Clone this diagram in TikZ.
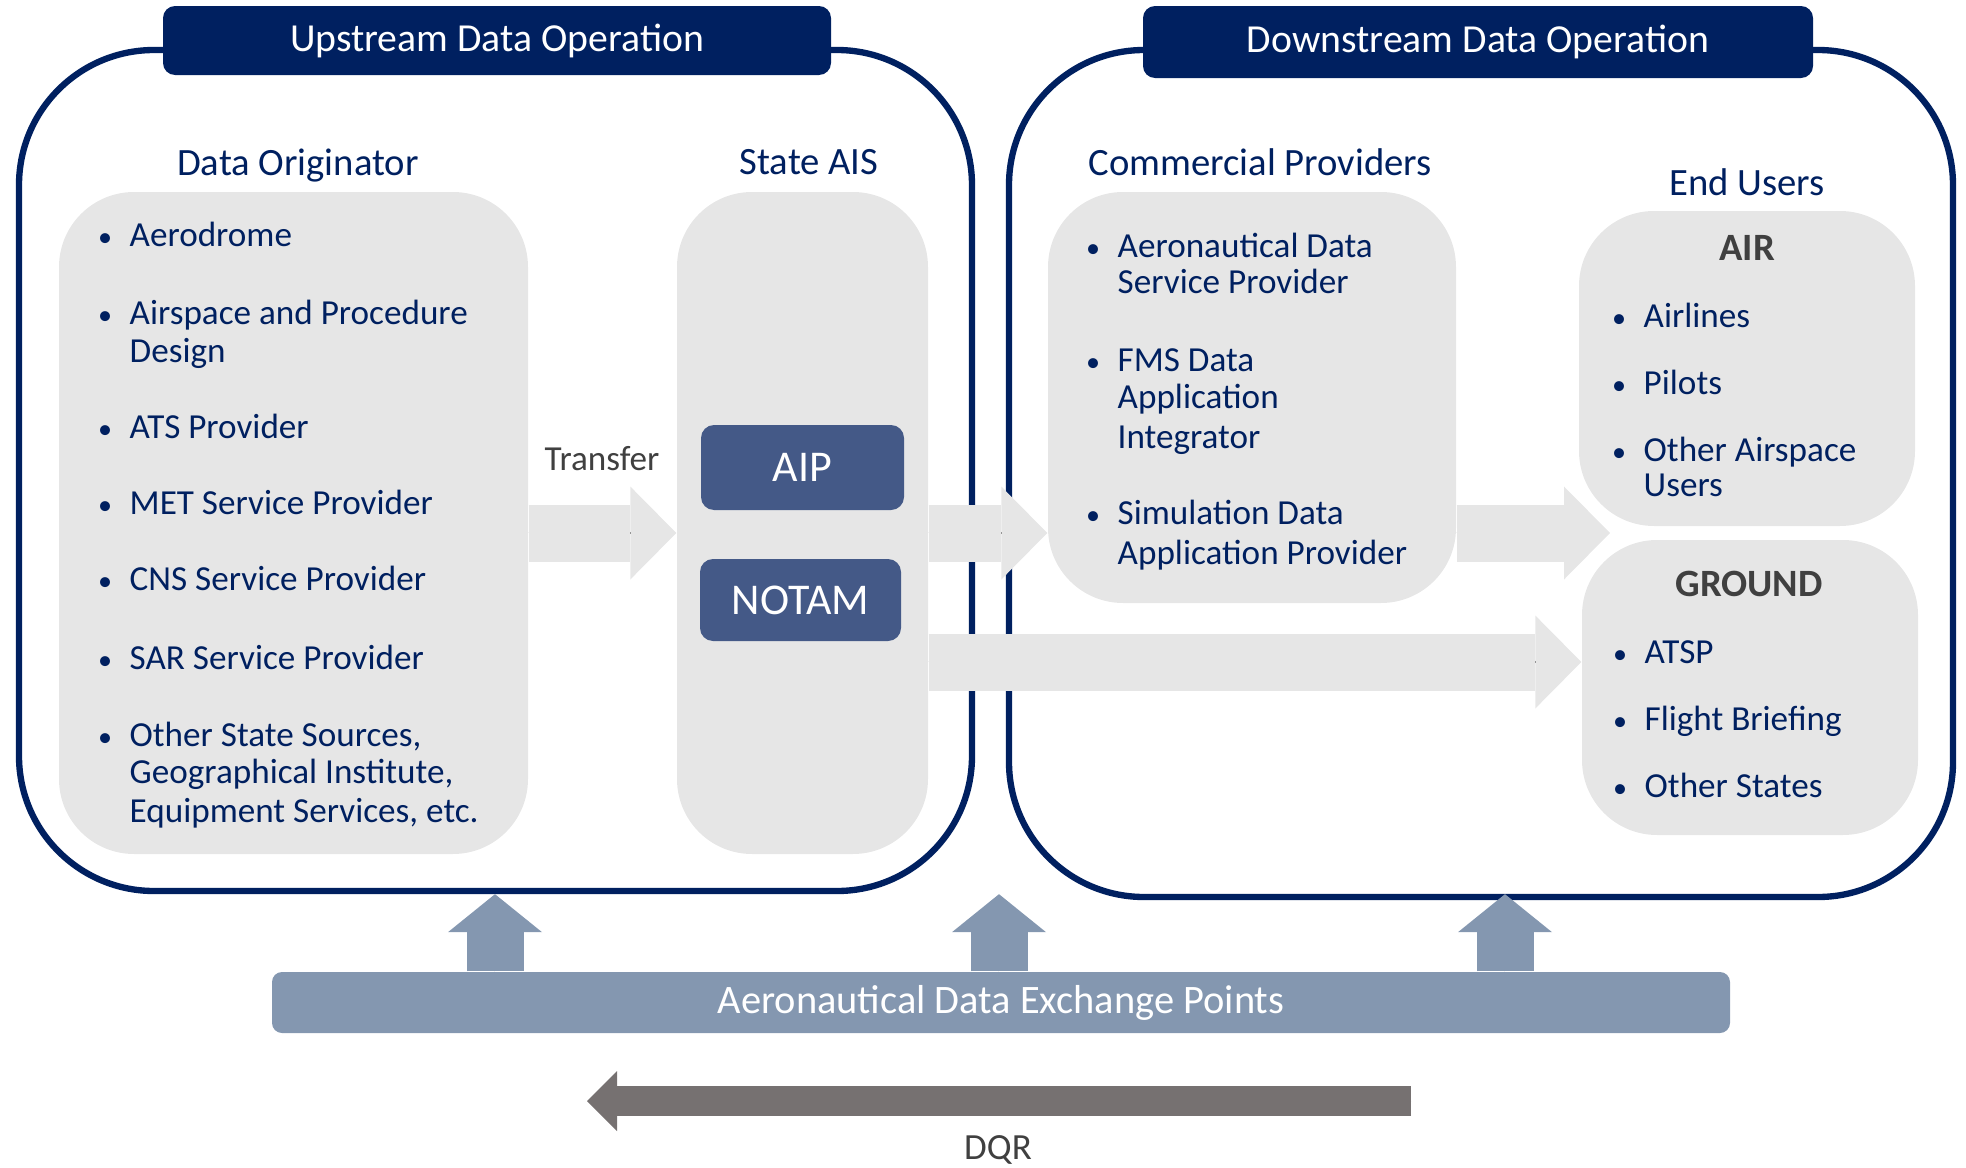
\documentclass[tikz,border=0pt]{standalone}
\usepackage{fontspec}
\setmainfont{Carlito}
\usetikzlibrary{arrows.meta,% block arrow heads
calc}
\definecolor{navy}{HTML}{002060}
\definecolor{slate}{HTML}{445987}
\definecolor{boxgrey}{HTML}{E6E6E6}
\definecolor{bandblue}{HTML}{8497B0}
\definecolor{dqrgrey}{HTML}{767171}
\definecolor{darktext}{HTML}{404040}
\tikzset{
  bigbox/.style={draw=navy, line width=1.8pt, rounded corners=13.5mm},
  header/.style={fill=navy, text=white, rounded corners=1.2mm, font=\fontsize{11.3}{13}\selectfont},
  greybox/.style={fill=boxgrey, rounded corners=7.5mm},
  docbox/.style={fill=slate, text=white, rounded corners=1.3mm, font=\fontsize{12.5}{14}\selectfont},
  head/.style={text=navy, font=\fontsize{11}{13}\selectfont},
  group/.style={text=darktext, font=\fontsize{11}{13}\selectfont\bfseries},
  item/.style={text=navy, anchor=west, inner sep=0pt, text height=7pt, text depth=2pt, yshift=-0.35mm,
    font=\fontsize{10}{11}\selectfont},
  bul/.style={item, anchor=center, font=\fontsize{8}{9}\selectfont},
  note/.style={text=darktext, font=\fontsize{10}{12}\selectfont},
  flow/.style={draw=boxgrey, line width=5.7mm, preaction={draw, -, shorten >=4mm},
    -{Triangle[length=4.6mm, width=9.3mm, line width=0pt]}},
  uparrow/.style={draw=bandblue, line width=5.7mm, preaction={draw, -, shorten >=3.2mm},
    -{Triangle[length=3.8mm, width=9.4mm, line width=0pt]}},
  back/.style={draw=dqrgrey, line width=3mm, preaction={draw, -, shorten >=2.4mm},
    -{Triangle[length=3mm, width=6mm, line width=0pt]}}
}

\begin{document}
\begin{tikzpicture}[x=0.1mm, y=-0.1mm]
  \useasboundingbox (0,0) rectangle (1966,1168);
  % the two operations
  \node[bigbox, minimum width=95.3mm, minimum height=84.1mm] (up) at (495.5,470.5) {};
  \node[bigbox, minimum width=94.4mm, minimum height=84.7mm] (down) at (1481,473.5) {};
  \node[header, minimum width=66.8mm, minimum height=6.9mm] (uph) at (497,40.5) {Upstream Data Operation};
  \node[header, minimum width=67mm, minimum height=7.2mm] (downh) at (1478,42) {Downstream Data Operation};

  \node[greybox, minimum width=46.9mm, minimum height=66.2mm] (orig) at (293.5,523) {};
  \node[greybox, minimum width=25.1mm, minimum height=66.2mm] (ais) at (802.5,523) {};
  \node[greybox, minimum width=40.8mm, minimum height=41.1mm] (comm) at (1252,397.5) {};
  \node[greybox, minimum width=33.6mm, minimum height=31.5mm] (air) at (1747,368.5) {};
  \node[greybox, minimum width=33.6mm, minimum height=29.5mm] (ground) at (1750,687.5) {};
  \node[docbox, minimum width=20.3mm, minimum height=8.5mm] (aip) at (802.5,467.5) {AIP};
  \node[docbox, minimum width=20.1mm, minimum height=8.2mm] (notam) at (800.5,600) {NOTAM};

  % flows
  \coordinate (mid) at (0,533);
  \coordinate (low) at (0,662);
  \coordinate (airgap) at (1610,533);
  \draw[flow] (orig.east |- mid) -- (ais.west |- mid);
  \draw[flow] (ais.east |- mid) -- (comm.west |- mid);
  \draw[flow] (comm.east |- mid) -- (airgap);
  \draw[flow] (ais.east |- low) -- (ground.west |- low);
  \node[note] (transfer) at (602,459) {Transfer};

  \node[head] (origh) at (298,166) {Data Originator};
  \node[head] (aish) at (809,162) {State AIS};
  \node[head] (commh) at (1260,162) {Commercial Providers};
  \node[head] (endh) at (1747,182) {End Users};
  \node[group] (airh) at (1747,248) {AIR};
  \node[group] (groundh) at (1749,584) {GROUND};

  \foreach \y/\t [count=\i] in {234/Aerodrome, 312/Airspace and Procedure, 350/Design, 426/ATS Provider,
    502/MET Service Provider, 578/CNS Service Provider, 657/SAR Service Provider,
    734/{Other State Sources,}, 771/{Geographical Institute,}, 810/{Equipment Services, etc.}}
    \node[item] (do\i) at (129,\y) {\t};
  \foreach \y [count=\i] in {234,312,426,502,578,657,734} \node[bul] (dob\i) at (105,\y) {\textbullet};

  \foreach \y/\t [count=\i] in {245/Aeronautical Data, 281/Service Provider, 359/FMS Data, 396/Application,
    436/Integrator, 512/Simulation Data, 552/Application Provider}
    \node[item] (cp\i) at (1117,\y) {\t};
  \foreach \y [count=\i] in {245,359,512} \node[bul] (cpb\i) at (1093,\y) {\textbullet};

  \foreach \y/\t [count=\i] in {315/Airlines, 382/Pilots, 449/Other Airspace, 484/Users}
    \node[item] (ai\i) at (1643,\y) {\t};
  \foreach \y [count=\i] in {315,382,449} \node[bul] (aib\i) at (1619,\y) {\textbullet};

  \foreach \y/\t [count=\i] in {651/ATSP, 718/Flight Briefing, 785/Other States}
    \node[item] (gr\i) at (1644,\y) {\t};
  \foreach \y [count=\i] in {651,718,785} \node[bul] (grb\i) at (1620,\y) {\textbullet};

  % exchange points
  \node[fill=bandblue, text=white, rounded corners=1mm, minimum width=145.8mm, minimum height=6.1mm,
    font=\fontsize{11.5}{13}\selectfont] (band) at (1001,1002.5) {Aeronautical Data Exchange Points};
  \foreach \x [count=\i] in {495,999,1505} {
    \coordinate (ua\i) at (\x,0);
    \draw[uparrow] (band.north -| ua\i) -- (up.south -| ua\i);
  }

  \coordinate (dqrR) at (1411,1101);
  \coordinate (dqrL) at (587,1101);
  \draw[back] (dqrR) -- (dqrL);
  \node[note, inner sep=0pt, font=\fontsize{10.5}{12}\selectfont] (dqr) at (998,1150) {DQR};
\end{tikzpicture}
\end{document}
